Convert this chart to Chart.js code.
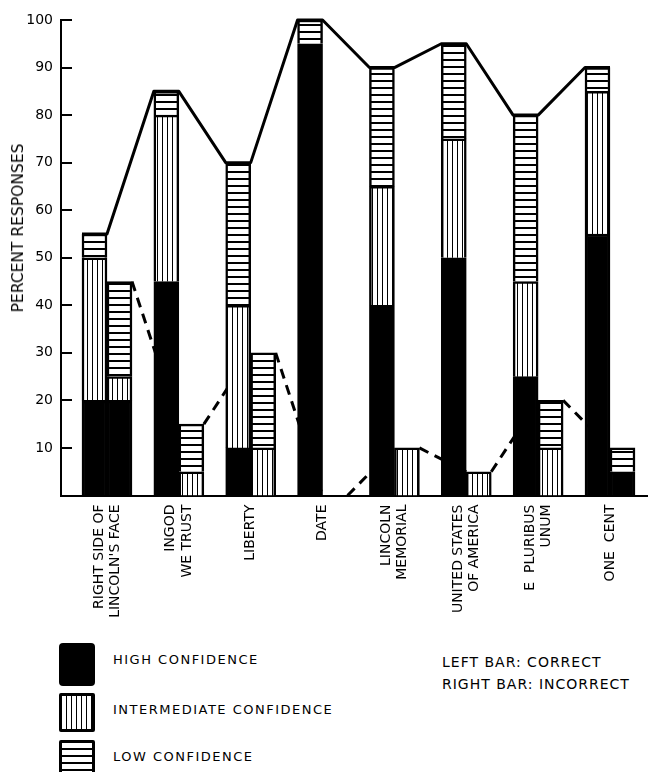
<!DOCTYPE html>
<html>
<head>
<meta charset="utf-8">
<script src="https://cdn.jsdelivr.net/npm/chart.js@4"></script>
<style>
  html, body { margin: 0; padding: 0; background: #fff; }
  #wrap { position: relative; width: 648px; height: 772px; overflow: hidden; }
  #chartBox { position: absolute; left: 0; top: 0; width: 648px; height: 630px; }
  .sw { position: absolute; box-sizing: border-box; }
  .lt { position: absolute; font-family: 'DejaVu Sans', sans-serif; color: #000; white-space: nowrap; line-height: 16px; }
  #ytitle { position: absolute; left: 17.5px; top: 228px; transform: translate(-50%, -50%) rotate(-90deg);
            font-family: 'DejaVu Sans', sans-serif; font-size: 15.5px; color: #000; white-space: nowrap; line-height: 18px; }
</style>
</head>
<body>
<div id="wrap">
  <div id="chartBox"><canvas id="c"></canvas></div>
  <div id="ytitle"></div>
  <div id="legend"></div>
</div>
<script>
// ---- data ----
const categories = [
  ["RIGHT SIDE OF", "LINCOLN'S FACE"],
  ["INGOD", "WE TRUST"],
  ["LIBERTY"],
  ["DATE"],
  ["LINCOLN", "MEMORIAL"],
  ["UNITED STATES", "OF AMERICA"],
  ["E  PLURIBUS", "UNUM"],
  ["ONE  CENT"]
];
const seriesNames = ["HIGH CONFIDENCE", "INTERMEDIATE CONFIDENCE", "LOW CONFIDENCE"];
const barNotes = ["LEFT BAR: CORRECT", "RIGHT BAR: INCORRECT"];
const correctHigh  = [20, 45, 10, 95, 40, 50, 25, 55];
const correctInter = [30, 35, 30,  0, 25, 25, 20, 30];
const correctLow   = [ 5,  5, 30,  5, 25, 20, 35,  5];
const incorrectHigh  = [20, 0,  0, 0,  0, 0,  0, 5];
const incorrectInter = [ 5, 5, 10, 0, 10, 5, 10, 0];
const incorrectLow   = [20, 10, 20, 0, 0, 0, 10, 5];
const yTicks = [10, 20, 30, 40, 50, 60, 70, 80, 90, 100];
const yTitle = "PERCENT RESPONSES";

// ---- patterns ----
const canvas = document.getElementById('c');
const mainCtx = canvas.getContext('2d');
function makePattern(kind) {
  const pc = document.createElement('canvas');
  const p = pc.getContext('2d');
  if (kind === 'v') {
    pc.width = 5; pc.height = 5;
    p.fillStyle = '#fff'; p.fillRect(0, 0, 5, 5);
    p.fillStyle = '#000'; p.fillRect(2, 0, 1, 5);
  } else {
    pc.width = 7; pc.height = 7;
    p.fillStyle = '#fff'; p.fillRect(0, 0, 7, 7);
    p.fillStyle = '#000'; p.fillRect(0, 3, 7, 2);
  }
  return mainCtx.createPattern(pc, 'repeat');
}
const fills = ['#000', makePattern('v'), makePattern('h')];

const toPts = arr => arr.map((v, i) => ({ x: i, y: v }));
function ds(label, arr, fillIdx, stack) {
  return {
    label, data: toPts(arr), stack,
    backgroundColor: fills[fillIdx], borderColor: '#000', borderWidth: 2.5,
    borderSkipped: 'start', barThickness: 25
  };
}

const xFont = { family: 'DejaVu Sans', size: 14, lineHeight: 1.15 };

// ---- plugin: connecting lines and inward y ticks ----
function drawTops(chart, dsIndex, dashed) {
  const meta = chart.getDatasetMeta(dsIndex);
  const ctx = chart.ctx;
  ctx.save();
  ctx.strokeStyle = '#000';
  ctx.lineWidth = 3;
  ctx.lineJoin = 'round';
  ctx.lineCap = 'butt';
  const pts = meta.data.map(b => {
    const p = b.getProps(['x', 'y', 'width'], true);
    return { l: p.x - p.width / 2, r: p.x + p.width / 2, y: p.y };
  });
  ctx.beginPath();
  if (dashed) {
    ctx.setLineDash([10, 7]);
    for (let i = 0; i < pts.length - 1; i++) {
      ctx.moveTo(pts[i].r, pts[i].y);
      ctx.lineTo(pts[i + 1].l, pts[i + 1].y);
    }
  } else {
    pts.forEach((p, i) => {
      if (i === 0) ctx.moveTo(p.l, p.y); else ctx.lineTo(p.l, p.y);
      ctx.lineTo(p.r, p.y);
    });
  }
  ctx.stroke();
  ctx.restore();
}
const linesPlugin = {
  id: 'linesPlugin',
  beforeDatasetsDraw(chart) { drawTops(chart, 5, true); },
  afterDatasetsDraw(chart) {
    drawTops(chart, 2, false);
    const ys = chart.scales.y, ctx = chart.ctx, left = chart.chartArea.left;
    ctx.save();
    ctx.strokeStyle = '#000';
    ctx.lineWidth = 2;
    ys.ticks.forEach(t => {
      const py = Math.round(ys.getPixelForValue(t.value));
      ctx.beginPath();
      ctx.moveTo(left, py);
      ctx.lineTo(left + 11, py);
      ctx.stroke();
    });
    ctx.restore();
  }
};

new Chart(canvas, {
  type: 'bar',
  data: {
    datasets: [
      ds(seriesNames[0], correctHigh, 0, 'correct'),
      ds(seriesNames[1], correctInter, 1, 'correct'),
      ds(seriesNames[2], correctLow, 2, 'correct'),
      ds(seriesNames[0], incorrectHigh, 0, 'incorrect'),
      ds(seriesNames[1], incorrectInter, 1, 'incorrect'),
      ds(seriesNames[2], incorrectLow, 2, 'incorrect')
    ]
  },
  options: {
    responsive: true,
    maintainAspectRatio: false,
    animation: false,
    layout: { padding: { top: 20, right: 1, left: 0, bottom: 0 } },
    plugins: { legend: { display: false }, tooltip: { enabled: false } },
    scales: {
      x: {
        type: 'linear',
        offset: false,
        min: -0.64,
        max: 7.515,
        grid: { display: false, drawTicks: false, offset: false },
        border: { display: true, color: '#000', width: 2 },
        ticks: {
          autoSkip: false, minRotation: 90, maxRotation: 90, padding: 9,
          color: '#000', font: xFont,
          callback: (v, i) => categories[i]
        },
        afterBuildTicks(scale) {
          const ppu = scale.width / (scale.max - scale.min);
          const lh = xFont.size * xFont.lineHeight;
          scale.ticks = categories.map((c, i) => ({ value: i - ((c.length - 1) * lh / 2) / ppu }));
        },
        afterFit(scale) { scale.height = 134.5; scale.paddingLeft = 0; scale.paddingRight = 0; }
      },
      y: {
        min: 0, max: 100, stacked: true,
        grid: { display: false, drawTicks: false },
        border: { display: true, color: '#000', width: 2 },
        ticks: { padding: 8, color: '#000', font: { family: 'DejaVu Sans', size: 14 } },
        afterBuildTicks(scale) { scale.ticks = yTicks.map(v => ({ value: v })); },
        afterFit(scale) { scale.width = 61; }
      }
    }
  },
  plugins: [linesPlugin]
});

document.getElementById('ytitle').textContent = yTitle;

// ---- HTML legend ----
const legend = document.getElementById('legend');
const swStyles = [
  'left:59px;top:643px;width:36px;height:43px;background:#000;border-radius:4px;',
  'left:59px;top:693px;width:36px;height:39px;border:3px solid #000;border-radius:2px;background:repeating-linear-gradient(90deg,#fff 0 4px,#000 4px 5px);',
  'left:59px;top:740px;width:36px;height:40px;border:3px solid #000;border-radius:2px;background:repeating-linear-gradient(180deg,#fff 0 5px,#000 5px 7px);'
];
const textTops = [652, 702, 749];
seriesNames.forEach((name, i) => {
  const s = document.createElement('div');
  s.className = 'sw'; s.style.cssText = swStyles[i];
  legend.appendChild(s);
  const t = document.createElement('div');
  t.className = 'lt';
  t.style.cssText = `left:113px;top:${textTops[i]}px;font-size:13px;letter-spacing:1.5px;`;
  t.textContent = name;
  legend.appendChild(t);
});
barNotes.forEach((note, i) => {
  const t = document.createElement('div');
  t.className = 'lt';
  t.style.cssText = `left:442px;top:${654 + i * 22}px;font-size:14px;letter-spacing:1px;`;
  t.textContent = note;
  legend.appendChild(t);
});
</script>
</body>
</html>
